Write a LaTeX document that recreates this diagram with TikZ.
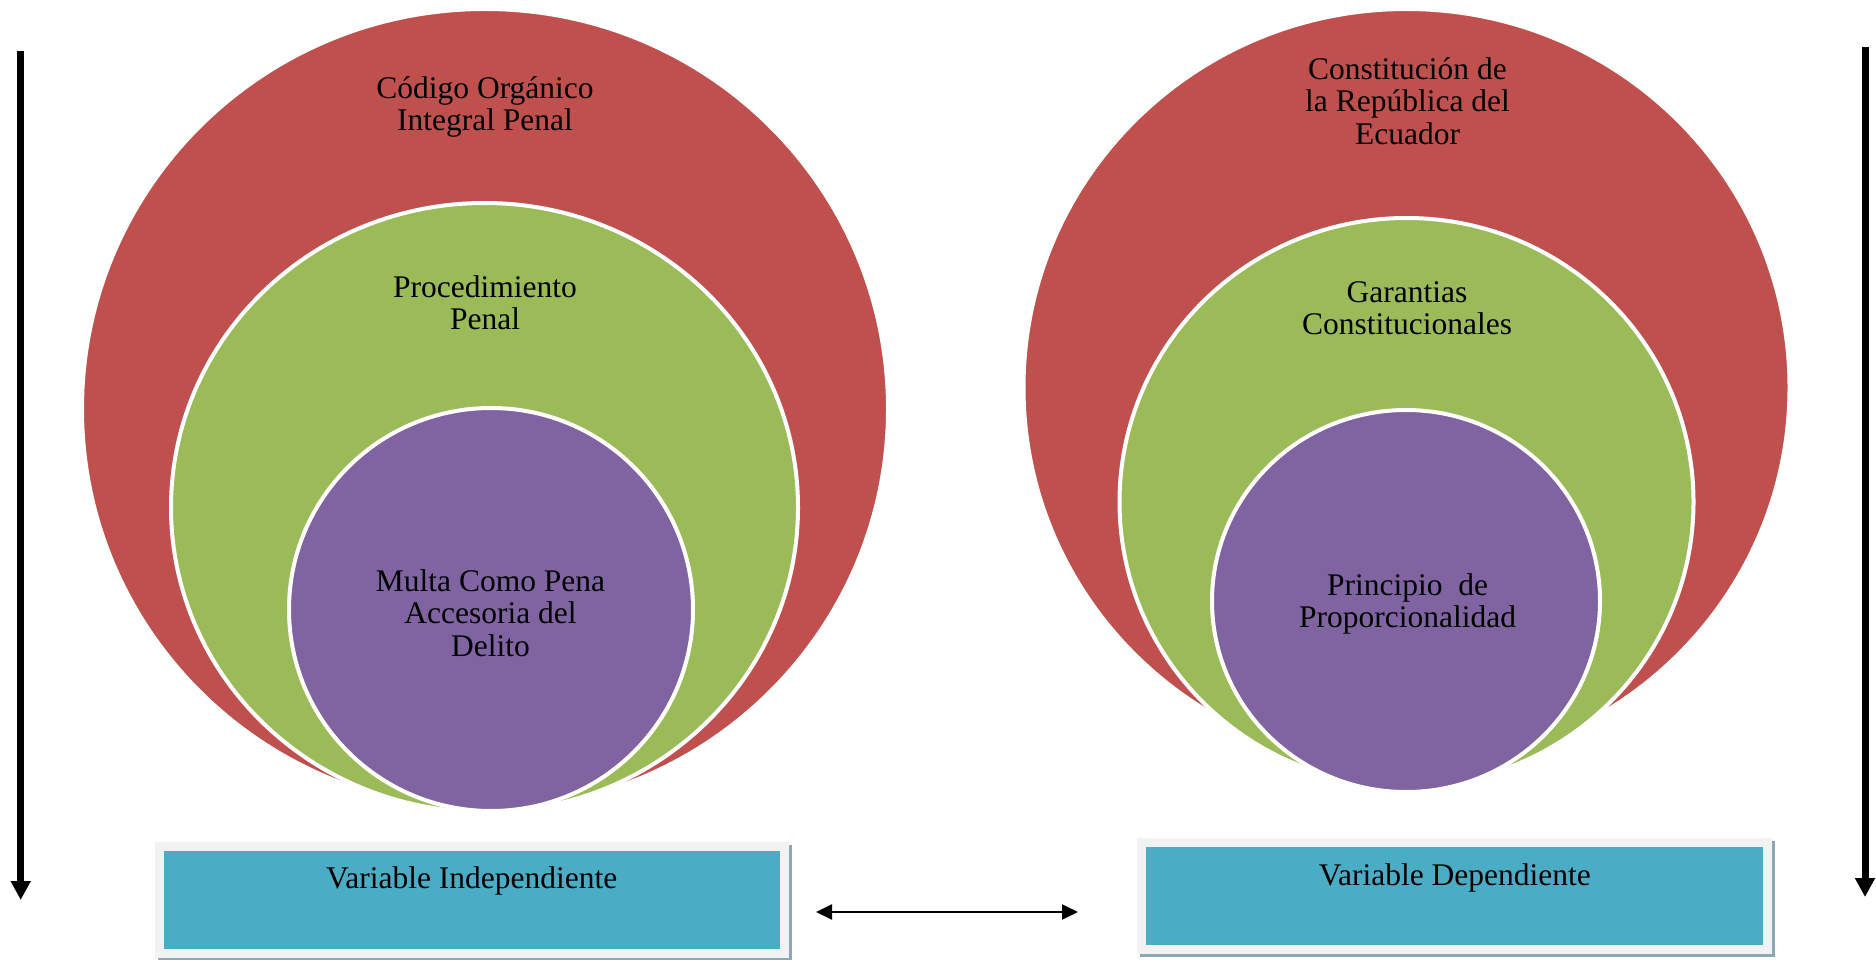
\documentclass[tikz,border=0pt]{standalone}
\usepackage{fontspec}
\setmainfont{Liberation Serif}
\usetikzlibrary{arrows.meta,backgrounds}
\definecolor{cred}{HTML}{C0504D}
\definecolor{cgreen}{HTML}{9BBB59}
\definecolor{cpurple}{HTML}{8064A2}
\definecolor{cblue}{HTML}{4BACC6}
\definecolor{cframe}{HTML}{F2F2F2}
\definecolor{cshadow}{HTML}{8CA8B2}
\begin{document}
\begin{tikzpicture}[x=1pt,y=-1pt,
  ring/.style={draw=white,line width=4pt},
  lbl/.style={align=center,font=\fontsize{31.5}{32.3}\selectfont,inner sep=0pt},
  varbox/.style={fill=cblue,draw=cframe,line width=9pt,outer sep=0pt,
    font=\fontsize{31.5}{32.3}\selectfont,text height=22pt,text depth=44pt},
  vshadow/.style={fill=cshadow},
  vtip/.style={-{Triangle[length=19pt,width=19pt]}},
  htip/.style={{Triangle[length=16pt,width=15pt]}-{Triangle[length=16pt,width=15pt]},line width=2pt}
]
\useasboundingbox (0,0) rectangle (1876,960);
\begin{scope}[on background layer]
  \fill[white] (0,0) rectangle (1876,960);
\end{scope}

% left group
\path[fill=cred,draw=white,line width=2pt] (485,409) ellipse [x radius=402pt, y radius=399pt];
\path[fill=cgreen,ring] (484.5,507.5) ellipse [x radius=313.5pt, y radius=304.5pt];
\path[fill=cpurple,ring] (491,609.5) ellipse [x radius=202pt, y radius=201.5pt];

% right group
\path[fill=cred,draw=white,line width=2pt] (1406.5,387.6) ellipse [x radius=382pt, y radius=377.6pt];
\path[fill=cgreen,ring] (1406.5,502) ellipse [x radius=287pt, y radius=284pt];
\path[fill=cpurple,ring] (1406,601) ellipse [x radius=194pt, y radius=191pt];

% texts
\node[lbl] (cod) at (485,107) {Código Orgánico\\Integral Penal};
\node[lbl] (proc) at (485,303) {Procedimiento\\Penal};
\node[lbl] (multa) at (490.5,613) {Multa Como Pena\\Accesoria del\\Delito};
\node[lbl] (const) at (1407.5,101) {Constitución de\\la República del\\Ecuador};
\node[lbl] (gar) at (1407,308) {Garantias\\Constitucionales};
\node[lbl] (prin) at (1407.5,604) {Principio\ \ de\\Proporcionalidad};

% boxes
\node[varbox,minimum width=625.5pt,minimum height=107.5pt] (vi) at (471.75,899.75) {Variable Independiente};
\node[varbox,minimum width=625.7pt,minimum height=106.5pt] (vd) at (1454.8,896.2) {Variable Dependiente};
\begin{scope}[on background layer]
  \fill[vshadow] ([shift={(-1.5,-1.5)}]vi.north west) rectangle ([shift={(7.5,7.5)}]vi.south east);
  \fill[vshadow] ([shift={(-1.5,-1.5)}]vd.north west) rectangle ([shift={(7.5,7.5)}]vd.south east);
\end{scope}

% arrows
\coordinate (la1) at (20.7,51);
\coordinate (la2) at (20.7,900);
\draw[vtip,line width=6.5pt] (la1) -- (la2);
\coordinate (ra1) at (1865,47);
\coordinate (ra2) at (1865,897);
\draw[vtip,line width=7pt] (ra1) -- (ra2);
\coordinate (ha1) at (816,912);
\coordinate (ha2) at (1078,912);
\draw[htip] (ha1) -- (ha2);
\end{tikzpicture}
\end{document}
